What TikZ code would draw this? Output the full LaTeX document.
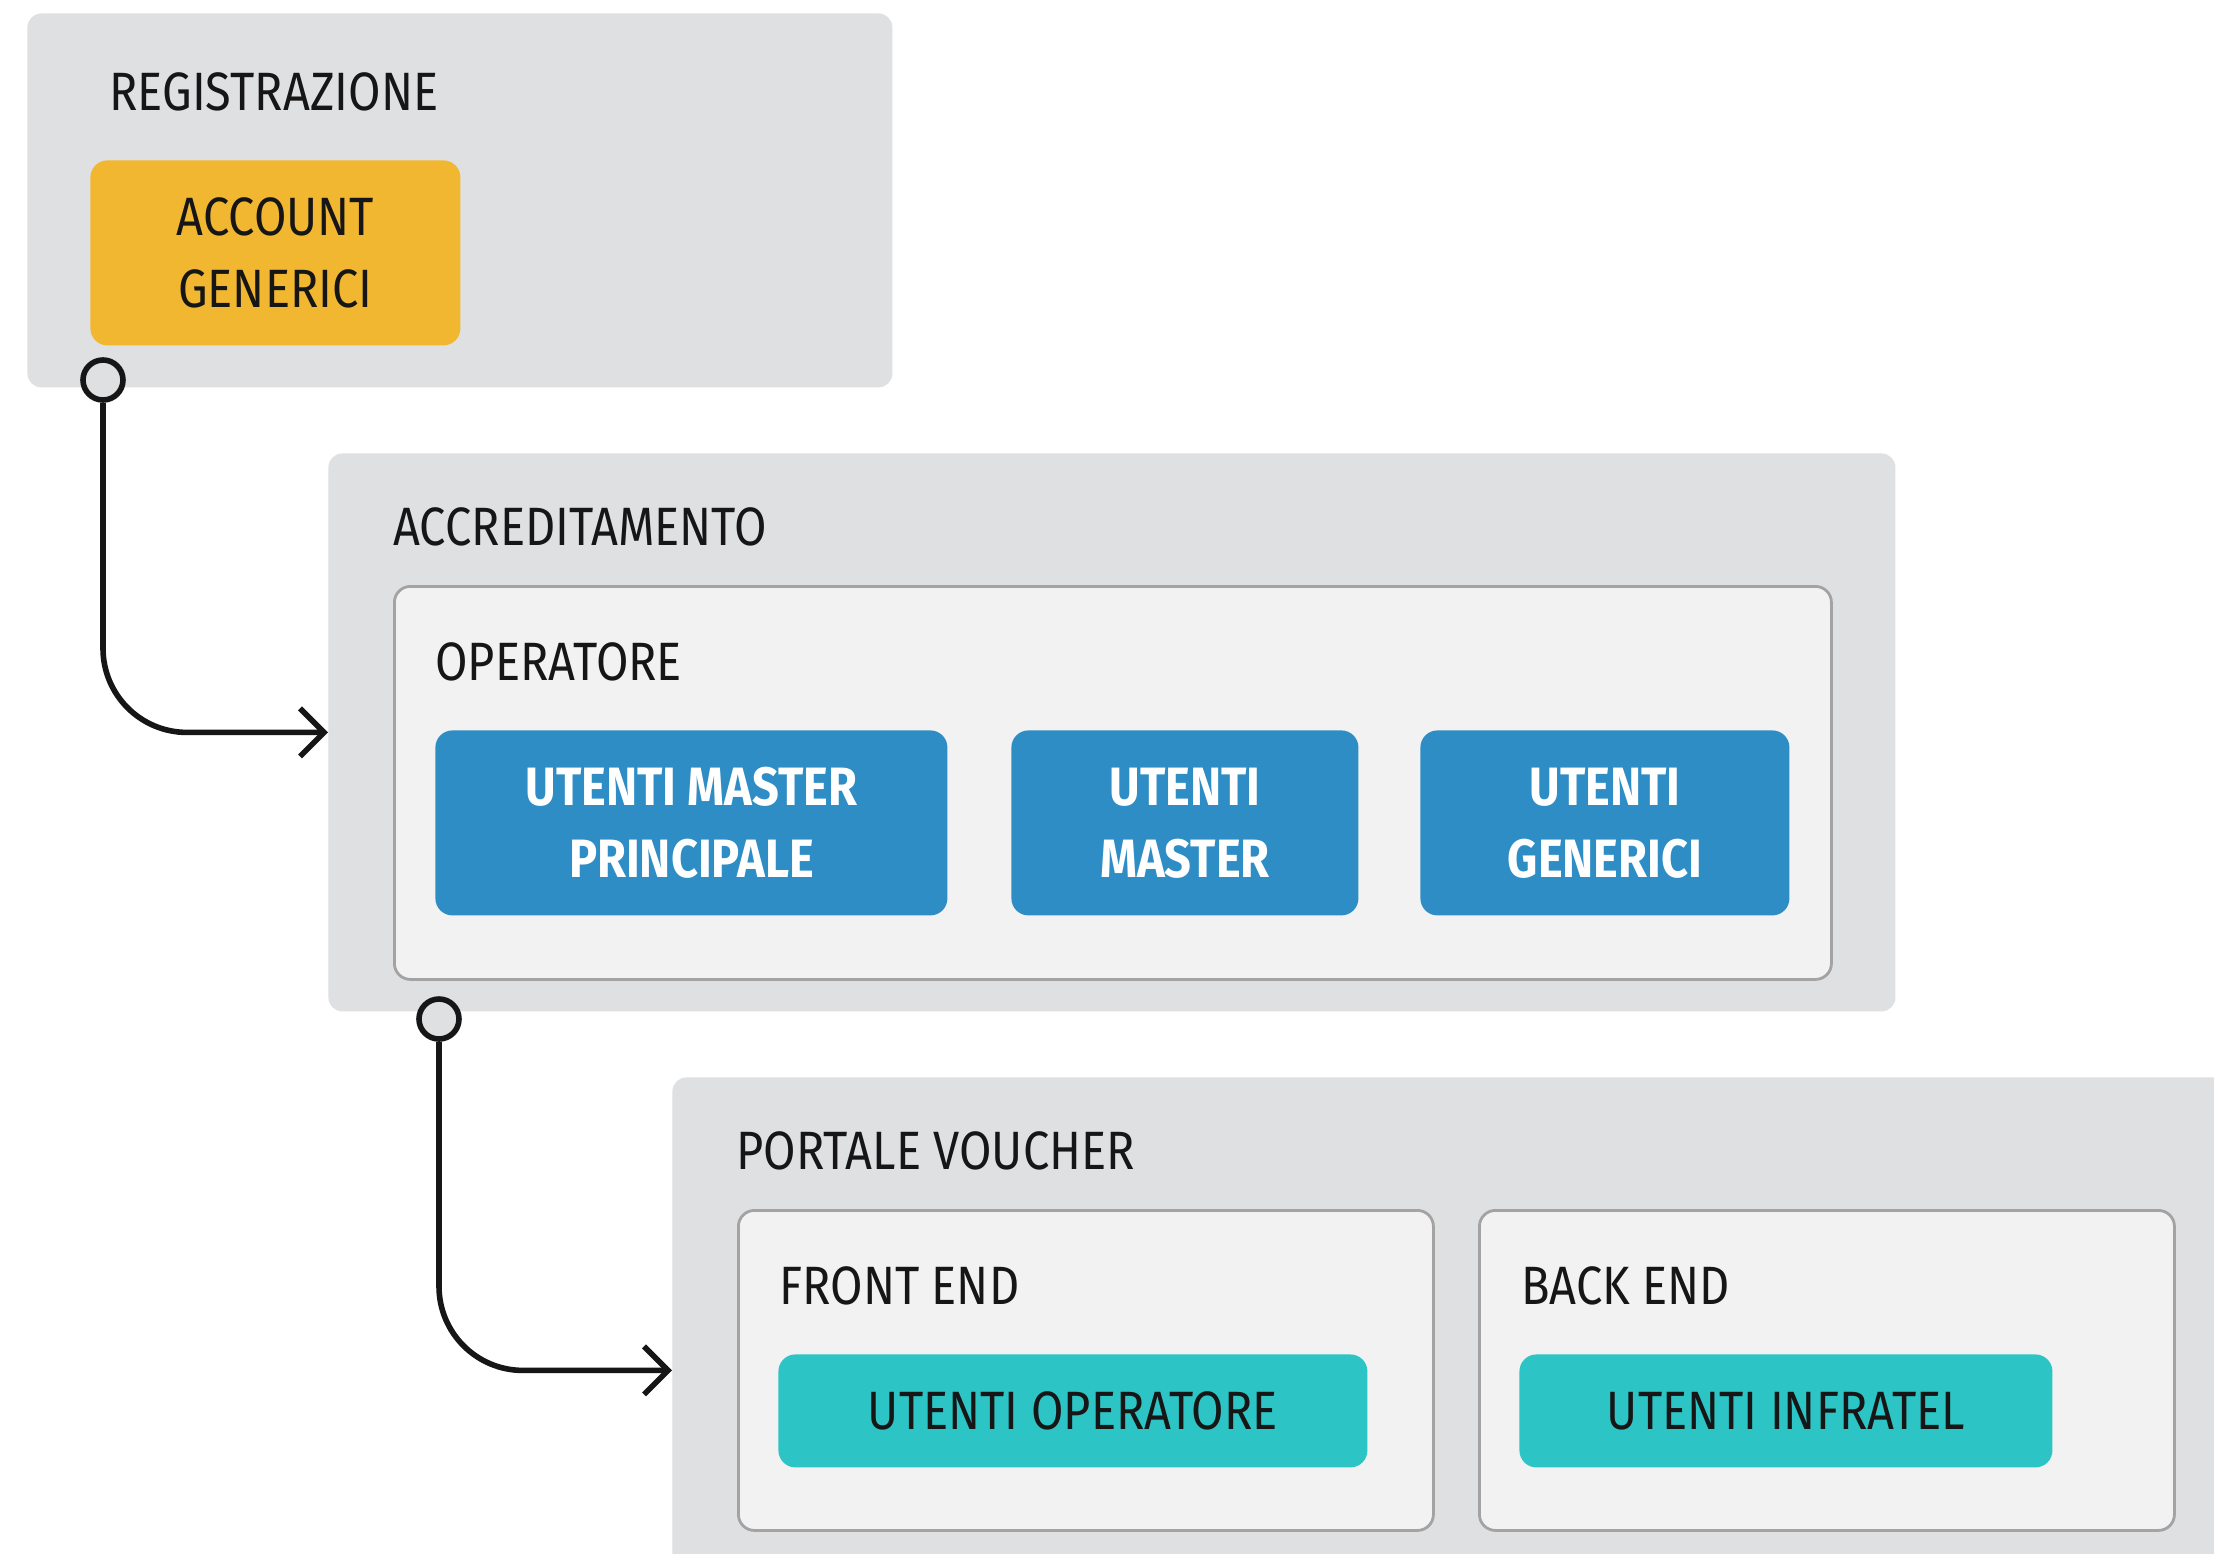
\documentclass[tikz,border=0pt]{standalone}
\usepackage{fontspec}
\setmainfont{Fira Sans}[FakeStretch=0.87]
\usetikzlibrary{arrows.meta}
\definecolor{outerg}{HTML}{DFE0E2}
\definecolor{innerg}{HTML}{F2F2F2}
\definecolor{bordg}{HTML}{A3A3A3}
\definecolor{yel}{HTML}{F2B731}
\definecolor{blu}{HTML}{2E8DC4}
\definecolor{tea}{HTML}{2CC4C4}
\definecolor{ink}{HTML}{161616}
\begin{document}
\begin{tikzpicture}[x=1pt,y=-1pt,
  outerbox/.style={fill=outerg, rounded corners=7pt, anchor=north west, inner sep=0pt},
  innerbox/.style={fill=innerg, draw=bordg, line width=1.4pt, rounded corners=8pt, anchor=north west, inner sep=0pt},
  titletext/.style={anchor=west, inner sep=0pt, text=ink, font=\fontsize{27}{36}\selectfont},
  yelbox/.style={fill=yel, rounded corners=8.5pt, anchor=north west, inner sep=0pt, text=ink, align=center, font=\fontsize{27}{36}\selectfont},
  blubox/.style={fill=blu, rounded corners=8.5pt, anchor=north west, inner sep=0pt, text=white, align=center, font=\fontsize{27}{36}\selectfont\bfseries},
  teabox/.style={fill=tea, rounded corners=8.5pt, anchor=north west, inner sep=0pt, text=ink, align=center, font=\fontsize{27}{36}\selectfont},
  port/.style={circle, draw=ink, fill=outerg, line width=2.8pt, minimum size=20pt, inner sep=0pt},
  conn/.style={draw=ink, line width=2.8pt, rounded corners=42pt, -{Straight Barb[length=12pt,width=24pt,line width=2.8pt]}}
]
\useasboundingbox (0,0) rectangle (1107,776.5);
\clip (0,0) rectangle (1107,776.5);
\fill[white] (0,0) rectangle (1107,776.5);

% REGISTRAZIONE
\node[outerbox, minimum width=432.5pt, minimum height=187pt] (reg) at (13.5,6.5) {};
\node[titletext] (regt) at (54.5,46) {REGISTRAZIONE};
\node[yelbox, minimum width=185pt, minimum height=92.5pt] (acc1) at (45,80) {ACCOUNT\\GENERICI};

% ACCREDITAMENTO
\node[outerbox, minimum width=783.5pt, minimum height=279pt] (acc) at (164,226.5) {};
\node[titletext] (acct) at (196.5,263.5) {ACCREDITAMENTO};
\node[innerbox, minimum width=718.5pt, minimum height=196.5pt] (op) at (196.5,292.5) {};
\node[titletext] (opt) at (217.5,331) {OPERATORE};
\node[blubox, minimum width=256pt, minimum height=92.5pt] (b1) at (217.5,365) {UTENTI MASTER\\PRINCIPALE};
\node[blubox, minimum width=173.5pt, minimum height=92.5pt] (b2) at (505.5,365) {UTENTI\\MASTER};
\node[blubox, minimum width=184.5pt, minimum height=92.5pt] (b3) at (710,365) {UTENTI\\GENERICI};

% PORTALE VOUCHER
\node[outerbox, minimum width=800pt, minimum height=300pt] (pv) at (336,538.5) {};
\node[titletext] (pvt) at (368,575.5) {PORTALE VOUCHER};
\node[innerbox, minimum width=347.5pt, minimum height=160pt] (fe) at (368.5,604.5) {};
\node[titletext] (fet) at (389.5,643) {FRONT END};
\node[teabox, minimum width=294.5pt, minimum height=56.5pt] (uo) at (389,677) {UTENTI OPERATORE};
\node[innerbox, minimum width=347.5pt, minimum height=160pt] (be) at (739,604.5) {};
\node[titletext] (bet) at (760.5,643) {BACK END};
\node[teabox, minimum width=266.5pt, minimum height=56.5pt] (ui) at (759.5,677) {UTENTI INFRATEL};

% ports and connectors
\node[port] (p1) at (51.5,190) {};
\node[port] (p2) at (219.5,509.5) {};
\coordinate (e2) at (pv.north west |- fe.west);
\draw[conn] (p1.south) |- (acc.west);
\draw[conn] (p2.south) |- (e2);
\end{tikzpicture}
\end{document}
